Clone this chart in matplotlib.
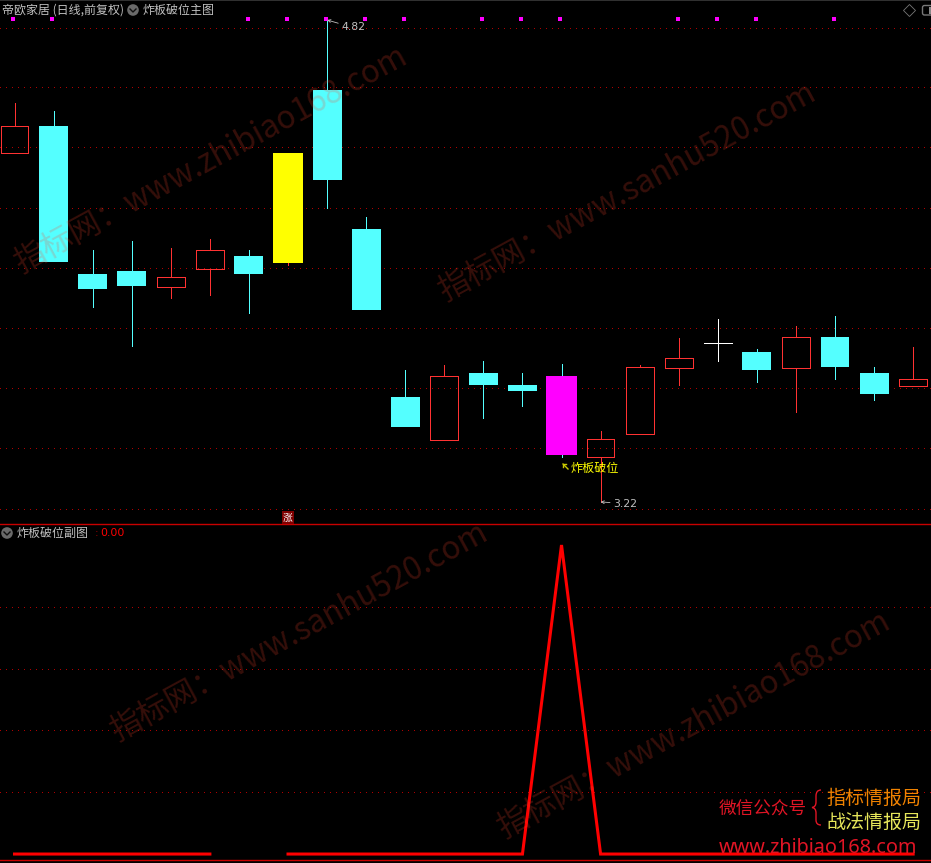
import matplotlib
matplotlib.use("Agg")
import matplotlib.pyplot as plt
from matplotlib.patches import Circle, FancyBboxPatch, PathPatch, Rectangle
from matplotlib.path import Path

plt.rcParams['font.family'] = ['Noto Sans CJK SC', 'DejaVu Sans']

# main pane, one value per trading day
opens = [4.378, 4.468, 3.977, 3.987, 3.934, 3.993, 4.037, 4.013, 4.588, 4.126, 3.568, 3.426,
         3.648, 3.608, 3.638, 3.369, 3.446, 3.665, 3.748, 3.718, 3.665, 3.768, 3.648, 3.605]
closes = [4.468, 4.017, 3.927, 3.937, 3.967, 4.056, 3.977, 4.378, 4.289, 3.857, 3.469, 3.638,
          3.608, 3.588, 3.376, 3.429, 3.668, 3.698, 3.748, 3.658, 3.768, 3.668, 3.578, 3.628]
highs = [4.544, 4.518, 4.056, 4.086, 4.063, 4.093, 4.056, 4.378, 4.820, 4.166, 3.658, 3.675,
         3.688, 3.648, 3.678, 3.456, 3.675, 3.764, 3.827, 3.728, 3.804, 3.837, 3.668, 3.734]
lows = [4.378, 4.017, 3.867, 3.738, 3.897, 3.907, 3.847, 4.007, 4.196, 3.857, 3.469, 3.426,
        3.499, 3.538, 3.369, 3.220, 3.446, 3.608, 3.688, 3.618, 3.519, 3.628, 3.558, 3.605]
specialBodies = {7: '#ffff00', 14: '#ff00ff'}
signalDays = [0, 1, 6, 7, 8, 9, 10, 12, 13, 14, 17, 18, 19, 21]
signalLevel = 4.823
priceGrid = [4.795, 4.596, 4.397, 4.196, 3.997, 3.797, 3.598, 3.399, 3.198]

# sub pane
nan = float('nan')
oscillator = [0, 0, 0, 0, 0, 0, nan, 0, 0, 0, 0, 0, 0, 0, 1, 0, 0, 0, 0, 0, 0, 0, 0, 0]
oscGrid = [0.2, 0.4, 0.6, 0.8]

RED = '#ff3232'
CYAN = '#54ffff'
GRID = '#b00000'
GRAY = '#c0c0c0'
W, H = 931, 863


def drawGrid(ax, levels):
    for level in levels:
        ax.axhline(level, color=GRID, lw=0.72, ls=(0, (1, 5.2)), zorder=1, antialiased=False)


def drawCandles(ax):
    for i in range(len(opens)):
        top = max(opens[i], closes[i])
        bottom = min(opens[i], closes[i])
        if opens[i] == closes[i]:
            ax.vlines(i, lows[i], highs[i], color='white', lw=0.7, zorder=3, antialiased=False)
            ax.hlines(top, i - 0.36, i + 0.36, color='white', lw=0.7, zorder=3, antialiased=False)
            continue
        isUp = closes[i] > opens[i]
        color = RED if isUp else CYAN
        ax.vlines(i, top, highs[i], color=color, lw=0.7, zorder=3, antialiased=False)
        ax.vlines(i, lows[i], bottom, color=color, lw=0.7, zorder=3, antialiased=False)
        if i in specialBodies:
            ax.bar(i, top - bottom, 0.79, bottom, color=specialBodies[i], lw=0, zorder=4)
        elif isUp:
            ax.bar(i, top - bottom, 0.71, bottom, facecolor='none', edgecolor=RED, lw=0.7, zorder=4,
                   antialiased=False)
        else:
            ax.bar(i, top - bottom, 0.74, bottom, color=CYAN, lw=0, zorder=4)


def drawLabels(ax):
    ax.plot([d - 0.03 for d in signalDays], [signalLevel] * len(signalDays), 's', color='#ff00ff',
            ms=2.3, mew=0, zorder=5)
    arrow = dict(arrowstyle='->', color=GRAY, lw=0.6, shrinkA=0, shrinkB=0, mutation_scale=5)
    ax.annotate('4.82', xy=(8, 4.82), xytext=(10, -5.4), textcoords='offset points', color=GRAY,
                fontsize=7.8, va='center', family='DejaVu Sans', arrowprops=arrow, zorder=6)
    ax.annotate('3.22', xy=(15, 3.22), xytext=(8.8, -1.2), textcoords='offset points', color=GRAY,
                fontsize=7.8, va='center', family='DejaVu Sans', arrowprops=arrow, zorder=6)
    ax.annotate('炸板破位', xy=(15, 3.369), xytext=(-22, -8.2), textcoords='offset points', color='#ffff00',
                fontsize=8.7, va='center', zorder=6)


def drawIcon(ui, x, y):
    ui.add_patch(Circle((x, y), 5.8, color='#6a6a6a', lw=0))
    ui.plot([x - 3, x, x + 3], [y - 1, y + 2, y - 1], color='#101010', lw=1)


def drawBrace(ui):
    verts = [(821, 790), (816, 790), (816, 796), (816, 802), (816, 807), (812, 807.5),
             (816, 808), (816, 813), (816, 820), (816, 825), (821, 825)]
    codes = [Path.MOVETO, Path.CURVE3, Path.CURVE3, Path.LINETO, Path.CURVE3, Path.CURVE3,
             Path.CURVE3, Path.CURVE3, Path.LINETO, Path.CURVE3, Path.CURVE3]
    ui.add_patch(PathPatch(Path(verts, codes), fc='none', ec='#e01525', lw=1.0))


def drawInterface(ui):
    ui.add_patch(Rectangle((0, 0), W, 1.2, color='#303030', lw=0))
    ui.text(2, 10, '帝欧家居 (日线,前复权)', color=GRAY, fontsize=8.64, va='center')
    drawIcon(ui, 133, 10)
    ui.text(143, 10, '炸板破位主图', color=GRAY, fontsize=8.64, va='center')
    ui.plot([909], [10.5], 'D', mfc='none', mec='#777777', ms=6.5, mew=0.6)
    ui.add_patch(FancyBboxPatch((922.5, 5.5), 20, 9.5, boxstyle='round,pad=0,rounding_size=2', fc='none',
                                ec='#777777', lw=1, clip_on=True))
    ui.add_patch(Rectangle((929, 7), 3, 7, color='#888888', lw=0))
    ui.plot([563, 568], [464, 469], color='#c8c800', lw=1)
    ui.plot([562.5, 562.5, 566], [467, 463.5, 463.5], color='#c8c800', lw=1)

    ui.plot([0, W], [524.3, 524.3], color='#c80000', lw=1.0)
    ui.plot([0, W], [860.3, 860.3], color='#c80000', lw=1.0)
    ui.text(288, 517.5, '涨', color='white', fontsize=7, ha='center', va='center',
            bbox=dict(boxstyle='square,pad=0.12', fc='#800000', ec='none'))

    drawIcon(ui, 7, 533)
    ui.text(17, 533, '炸板破位副图', color=GRAY, fontsize=8.64, va='center')
    ui.text(94.5, 533, ':', color='#a00000', fontsize=7.8, va='center', family='DejaVu Sans')
    ui.text(100, 533, '0.00', color='#ff0000', fontsize=7.8, va='center', family='DejaVu Sans')

    ui.text(719, 810, '微信公众号', color='#e01525', fontsize=12.7, va='center')
    drawBrace(ui)
    ui.text(826.5, 798, '指标情报局', color='#f08200', fontsize=13.7, va='center')
    ui.text(826.5, 822, '战法情报局', color='#e6e65a', fontsize=13.7, va='center')
    ui.text(719, 847.5, 'www.zhibiao168.com', color='#e01525', fontsize=14.3, va='center', family='Noto Sans')


def drawWatermarks(ui):
    marks = [('指标网：www.zhibiao168.com', 211, 160), ('指标网：www.sanhu520.com', 627, 192),
             ('指标网：www.sanhu520.com', 299, 632), ('指标网：www.zhibiao168.com', 694, 725)]
    for text, x, y in marks:
        ui.text(x, y, text, color='#ff462d', alpha=0.21, fontsize=22.6, rotation=28.5, rotation_mode='anchor',
                ha='center', va='center', zorder=10)


fig = plt.figure(figsize=(W / 100, H / 100), dpi=100, facecolor='black')

axMain = fig.add_axes([0, (H - 524) / H, 1, 524 / H])
axSub = fig.add_axes([0, 0, 1, (H - 524) / H])
for ax in (axMain, axSub):
    ax.set_facecolor('black')
    ax.set_axis_off()
    ax.set_xlim(-0.372, 23.457)
axMain.set_ylim(3.1467, 4.8864)
axSub.set_ylim(-0.029, 1.068)

drawGrid(axMain, priceGrid)
drawCandles(axMain)
drawLabels(axMain)

drawGrid(axSub, oscGrid)
axSub.plot(range(len(oscillator)), oscillator, color='#ff0000', lw=2.2, zorder=4, solid_joinstyle='miter')

ui = fig.add_axes([0, 0, 1, 1], facecolor='none')
ui.set_axis_off()
ui.set_xlim(0, W)
ui.set_ylim(H, 0)
drawInterface(ui)
drawWatermarks(ui)

plt.savefig('out.png', dpi=100, facecolor='black')
